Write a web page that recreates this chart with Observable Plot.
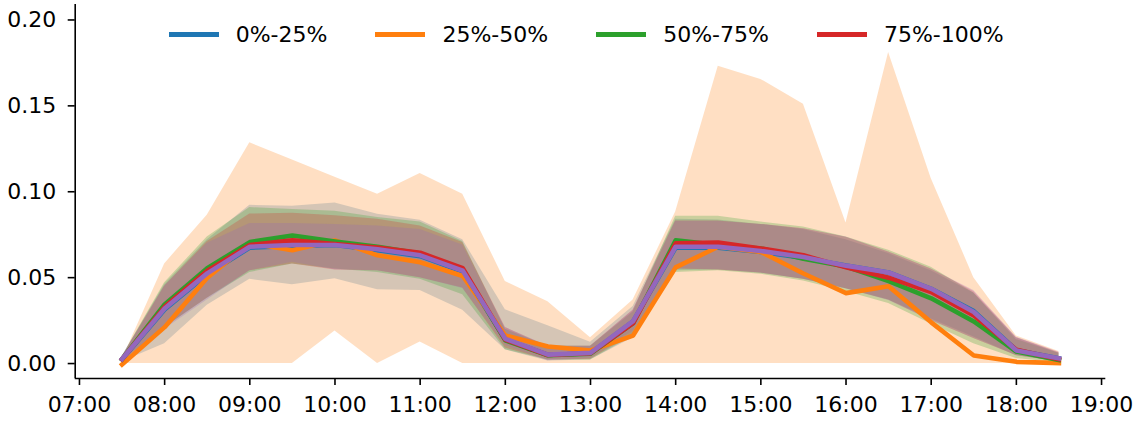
<!DOCTYPE html>
<html>
<head>
<meta charset="utf-8">
<script src="https://cdn.jsdelivr.net/npm/d3@7"></script>
<script src="https://cdn.jsdelivr.net/npm/@observablehq/plot@0.6"></script>
<style>
  html, body { margin: 0; padding: 0; background: #fff; }
  #wrap { position: relative; width: 1137px; height: 423px; font-family: "DejaVu Sans", sans-serif; }
  #legend { position: absolute; left: 168.7px; top: 22px; display: flex; align-items: center; font-size: 22px; color: #000; white-space: nowrap; }
  .item { display: flex; align-items: center; margin-right: 48px; }
  .sw { width: 50px; height: 4.5px; margin-right: 17px; }
</style>
</head>
<body>
<div id="wrap"><div id="legend"></div></div>
<script>
// time points (HH:MM)
const times = ["07:30","08:00","08:30","09:00","09:30","10:00","10:30","11:00","11:30","12:00","12:30","13:00",
               "13:30","14:00","14:30","15:00","15:30","16:00","16:30","17:00","17:30","18:00","18:30"];
const hourTicks = ["07:00","08:00","09:00","10:00","11:00","12:00","13:00","14:00","15:00","16:00","17:00","18:00","19:00"];
const yTicks = [0, 0.05, 0.10, 0.15, 0.20];

const labels = ["0%-25%", "25%-50%", "50%-75%", "75%-100%", "all"];
const colors = ["#1f77b4", "#ff7f0e", "#2ca02c", "#d62728", "#9467bd"];

// 0%-25%
const blueMean = [0.0025,0.0315,0.052,0.0675,0.0685,0.069,0.066,0.0625,0.0535,0.014,0.005,0.006,0.0245,0.0675,0.0675,0.065,0.0615,0.057,0.053,0.0435,0.0305,0.0078,0.003];
const blueLo   = [0.001,0.0115,0.034,0.049,0.0459,0.0494,0.043,0.0425,0.031,0.008,0.0015,0.002,0.015,0.054,0.0545,0.0525,0.049,0.0435,0.037,0.026,0.0155,0.0045,0.001];
const blueHi   = [0.004,0.046,0.072,0.0921,0.0915,0.0935,0.0869,0.0834,0.0721,0.0313,0.022,0.0124,0.0332,0.084,0.0835,0.081,0.078,0.072,0.064,0.054,0.041,0.015,0.006];
// 25%-50%
const orangeMean = [-0.0005,0.0212,0.050,0.070,0.066,0.0717,0.063,0.059,0.051,0.0163,0.0099,0.0076,0.0163,0.056,0.068,0.065,0.0524,0.041,0.045,0.024,0.0047,0.001,0.0003];
const orangeLo   = [0,0,0,0,0,0.019,0,0.0125,0,0,0,0,0,0,0,0,0,0,0,0,0,0,0];
const orangeHi   = [0.002,0.058,0.0863,0.1285,0.1185,0.1085,0.0985,0.1106,0.0985,0.0478,0.036,0.015,0.037,0.0882,0.173,0.1654,0.151,0.0818,0.181,0.1077,0.050,0.016,0.007];
// 50%-75%
const greenMean = [0.0025,0.0344,0.0555,0.0707,0.0745,0.071,0.068,0.064,0.0545,0.0135,0.0048,0.0058,0.0235,0.0717,0.069,0.067,0.061,0.0565,0.048,0.038,0.0245,0.007,0.002];
const greenLo   = [0.001,0.021,0.038,0.053,0.058,0.055,0.053,0.049,0.040,0.008,0.002,0.002,0.016,0.053,0.054,0.052,0.048,0.042,0.035,0.023,0.0116,0.003,0.0005];
const greenHi   = [0.004,0.047,0.0737,0.0908,0.0896,0.0886,0.085,0.0824,0.071,0.020,0.010,0.010,0.030,0.0857,0.0857,0.0824,0.0795,0.0737,0.066,0.056,0.041,0.014,0.006];
// 75%-100%
const redMean = [0.0025,0.033,0.054,0.069,0.0717,0.0695,0.0675,0.0645,0.0555,0.014,0.005,0.006,0.0235,0.070,0.0705,0.067,0.063,0.056,0.050,0.0416,0.028,0.008,0.0025];
const redLo   = [0.001,0.021,0.038,0.054,0.058,0.0545,0.054,0.050,0.044,0.009,0.002,0.0025,0.017,0.055,0.0545,0.0527,0.049,0.0435,0.037,0.025,0.0146,0.0047,0.001];
const redHi   = [0.004,0.045,0.071,0.087,0.0875,0.086,0.084,0.080,0.0705,0.021,0.010,0.010,0.031,0.083,0.083,0.081,0.0785,0.0735,0.065,0.055,0.042,0.015,0.0065];
// all
const purpleMean = [0.0027,0.032,0.0525,0.068,0.069,0.069,0.0665,0.063,0.054,0.0144,0.0052,0.0062,0.0247,0.068,0.068,0.0655,0.062,0.057,0.053,0.0435,0.030,0.0076,0.003];
const purpleLo   = [0.001,0.020,0.037,0.054,0.059,0.0546,0.054,0.050,0.0437,0.0105,0.0017,0.003,0.019,0.0552,0.0546,0.0527,0.049,0.0435,0.0367,0.025,0.0146,0.0047,0.001];
const purpleHi   = [0.004,0.045,0.070,0.0815,0.0815,0.081,0.080,0.078,0.069,0.021,0.010,0.010,0.031,0.0828,0.0828,0.081,0.0785,0.0737,0.065,0.055,0.0425,0.0153,0.0066];

const means = [blueMean, orangeMean, greenMean, redMean, purpleMean];
const los   = [blueLo, orangeLo, greenLo, redLo, purpleLo];
const his   = [blueHi, orangeHi, greenHi, redHi, purpleHi];

const toDate = s => { const [h, m] = s.split(":").map(Number); return new Date(2020, 0, 1, h, m); };

const series = labels.map((lab, k) => times.map((t, i) => ({
  series: lab, time: toDate(t), mean: means[k][i], lo: los[k][i], hi: his[k][i]
})));

const xDomain = [new Date(2020, 0, 1, 6, 57), new Date(2020, 0, 1, 19, 3)];
const yDomain = [-0.0087, 0.209];

const marks = [];
series.forEach((d, k) => marks.push(Plot.areaY(d, {x: "time", y1: "lo", y2: "hi", fill: colors[k], fillOpacity: 0.25, curve: "linear"})));
series.forEach((d, k) => marks.push(Plot.lineY(d, {x: "time", y: "mean", stroke: colors[k], strokeWidth: 4.6, strokeLinejoin: "round", strokeLinecap: "square"})));
marks.push(Plot.ruleX([xDomain[0]], {stroke: "#000", strokeWidth: 1.6}));
marks.push(Plot.ruleY([yDomain[0]], {stroke: "#000", strokeWidth: 1.6}));
marks.push(Plot.axisX({ticks: hourTicks.map(toDate), tickFormat: d3.timeFormat("%H:%M"), tickSize: 7, tickPadding: 11, strokeWidth: 1.6, label: null, fontSize: 22}));
marks.push(Plot.axisY({ticks: yTicks, tickFormat: d3.format(".2f"), tickSize: 7, tickPadding: 12, strokeWidth: 1.6, label: null, fontSize: 22}));

const chart = Plot.plot({
  width: 1137, height: 423,
  marginLeft: 74.7, marginRight: 31.7, marginTop: 4, marginBottom: 45,
  x: {type: "time", domain: xDomain},
  y: {domain: yDomain},
  style: {fontFamily: "DejaVu Sans", fontSize: "22px", color: "#000", background: "#fff"},
  marks
});
document.getElementById("wrap").prepend(chart);

const leg = document.getElementById("legend");
labels.slice(0, 4).forEach((lab, k) => {
  const it = document.createElement("div"); it.className = "item";
  const sw = document.createElement("div"); sw.className = "sw"; sw.style.background = colors[k];
  const tx = document.createElement("span"); tx.textContent = lab;
  it.append(sw, tx); leg.append(it);
});
</script>
</body>
</html>
